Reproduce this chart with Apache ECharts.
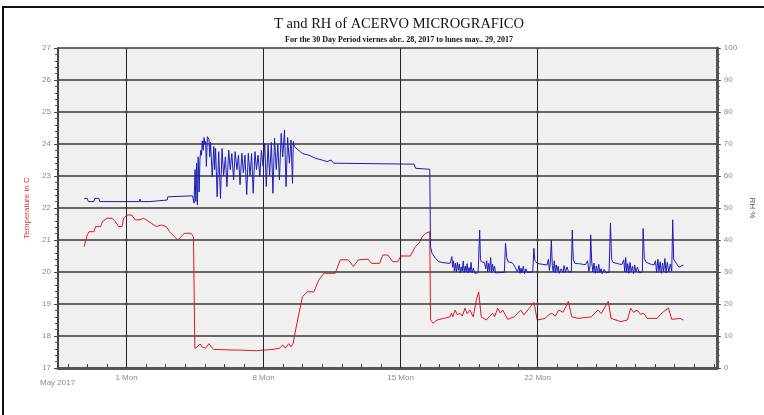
<!DOCTYPE html>
<html>
<head>
<meta charset="utf-8">
<script src="https://cdn.jsdelivr.net/npm/echarts@6/dist/echarts.min.js"></script>
<style>
  html, body { margin: 0; padding: 0; background: #fff; }
  #chart { width: 764px; height: 415px; }
</style>
</head>
<body>
<div id="chart"></div>
<script>
// x values are days from Monday May 1 2017 00:00 (negative = late April)
const dayTicks = [-3, -2, -1, 0, 1, 2, 3, 4, 5, 6, 7, 8, 9, 10, 11, 12, 13, 14, 15, 16,
                  17, 18, 19, 20, 21, 22, 23, 24, 25, 26, 27, 28, 29, 30];
const mondayDays = [0, 7, 14, 21];
const mondayLabels = ["1 Mon", "8 Mon", "15 Mon", "22 Mon"];

// Temperature in C, [day, value]
const tempPoints = [
    [-2.16, 20.79], [-2.08, 21.0], [-2.0, 21.16], [-1.91, 21.26], [-1.66, 21.26], [-1.58, 21.42],
    [-1.32, 21.42], [-1.24, 21.57], [-0.99, 21.68], [-0.74, 21.68], [-0.57, 21.57], [-0.4, 21.42],
    [-0.23, 21.42], [-0.15, 21.68], [0.02, 21.78], [0.27, 21.78], [0.44, 21.63], [0.69, 21.63],
    [0.86, 21.68], [1.02, 21.63], [1.27, 21.52], [1.53, 21.42], [1.78, 21.47], [2.03, 21.42],
    [2.2, 21.26], [2.45, 21.1], [2.62, 21.0], [2.78, 21.1], [2.95, 21.21], [3.29, 21.21],
    [3.42, 21.1], [3.49, 17.61], [3.62, 17.67], [3.76, 17.75], [3.87, 17.65], [4.04, 17.62],
    [4.21, 17.76], [4.33, 17.66], [4.46, 17.58], [5.63, 17.56], [5.72, 17.5], [5.8, 17.56],
    [6.64, 17.54], [6.73, 17.49], [6.81, 17.55], [7.48, 17.58], [7.81, 17.62], [7.98, 17.72],
    [8.11, 17.62], [8.28, 17.76], [8.4, 17.66], [8.52, 17.78], [8.57, 17.98], [8.74, 18.5],
    [8.99, 19.23], [9.24, 19.38], [9.57, 19.38], [9.82, 19.75], [10.08, 19.96], [10.66, 19.96],
    [10.92, 20.38], [11.33, 20.38], [11.59, 20.17], [11.84, 20.38], [12.34, 20.4], [12.51, 20.27],
    [12.93, 20.27], [13.09, 20.53], [13.35, 20.53], [13.6, 20.32], [13.85, 20.32], [14.02, 20.5],
    [14.5, 20.5], [14.75, 20.79], [14.94, 20.9], [15.11, 21.1], [15.28, 21.21], [15.36, 21.26],
    [15.49, 21.26], [15.53, 18.5], [15.66, 18.4], [15.86, 18.5], [16.2, 18.55], [16.53, 18.6],
    [16.6, 18.72], [16.66, 18.6], [16.79, 18.81], [16.9, 18.66], [17.04, 18.71], [17.15, 18.62],
    [17.29, 18.87], [17.4, 18.7], [17.54, 18.81], [17.71, 18.6], [17.87, 19.12], [17.99, 19.38],
    [18.12, 18.6], [18.38, 18.5], [18.55, 18.62], [18.71, 18.71], [18.8, 18.6], [18.96, 18.87],
    [19.1, 18.72], [19.22, 18.81], [19.47, 18.52], [19.8, 18.6], [19.95, 18.7], [20.14, 18.81],
    [20.3, 18.66], [20.64, 18.92], [20.81, 19.05], [20.98, 18.5], [21.39, 18.55], [21.55, 18.66],
    [21.73, 18.71], [21.9, 18.62], [22.07, 18.81], [22.3, 18.74], [22.57, 19.08], [22.74, 18.6],
    [23.07, 18.55], [23.74, 18.6], [23.9, 18.7], [24.08, 18.81], [24.25, 18.7], [24.41, 18.87],
    [24.61, 19.08], [24.75, 18.55], [25.25, 18.45], [25.59, 18.5], [25.75, 18.87], [25.9, 18.74],
    [26.09, 18.81], [26.25, 18.68], [26.42, 18.71], [26.59, 18.55], [27.1, 18.55], [27.25, 18.66],
    [27.43, 18.76], [27.68, 18.87], [27.85, 18.52], [28.27, 18.55], [28.44, 18.5]
];

// Relative humidity %, [day, value]
const rhPoints = [
    [-2.16, 53.0], [-2.0, 53.0], [-1.95, 52.0], [-1.66, 52.0], [-1.62, 53.0], [-1.41, 53.0],
    [-1.37, 52.0], [0.66, 52.0], [0.69, 52.8], [0.72, 52.0], [1.19, 52.0], [1.22, 52.5],
    [2.08, 52.5], [2.11, 53.5], [3.37, 53.8], [3.42, 53.8],
    [3.45, 51.5], [3.5, 62], [3.54, 52], [3.58, 64], [3.62, 50.9], [3.66, 66], [3.71, 55],
    [3.75, 65], [3.79, 68], [3.83, 66.5], [3.87, 71], [3.92, 68], [3.96, 72], [4.0, 70],
    [4.04, 70.8], [4.08, 63], [4.13, 72.3], [4.21, 71.5], [4.25, 66], [4.29, 70.5], [4.38, 59.8],
    [4.46, 69.2], [4.5, 62], [4.55, 68.6], [4.63, 53.5], [4.71, 67.6], [4.8, 53.0], [4.88, 68.6],
    [4.96, 60], [5.05, 66], [5.13, 56.7], [5.22, 68.1], [5.3, 62], [5.38, 67], [5.47, 58.75],
    [5.55, 67.6], [5.64, 62], [5.72, 66.5], [5.8, 57.3], [5.89, 67.1], [5.97, 61], [6.05, 66.5],
    [6.14, 54.2], [6.22, 67.1], [6.31, 60], [6.39, 67], [6.47, 54.6], [6.56, 67.6], [6.64, 62],
    [6.72, 66.5], [6.81, 59.8], [6.89, 68], [6.98, 63], [7.06, 70.2], [7.14, 56.7], [7.23, 69.7],
    [7.31, 60], [7.4, 70.5], [7.48, 54.6], [7.56, 71.8], [7.65, 62], [7.73, 70], [7.81, 58.75],
    [7.9, 73.3], [7.98, 66], [8.07, 74.4], [8.15, 56.7], [8.23, 72], [8.32, 64], [8.4, 71.25],
    [8.48, 57.7], [8.52, 70.8], [8.57, 69.2], [8.65, 69.2], [8.99, 67.0], [9.32, 66.5],
    [9.66, 65.5], [9.99, 65.0], [10.25, 64.5], [10.35, 65.0], [10.45, 65.0], [10.58, 64.0],
    [14.69, 63.7], [14.77, 62.4], [15.49, 62.1], [15.53, 37.9], [15.61, 35.8], [15.78, 34.3],
    [15.95, 33.2], [16.2, 32.9], [16.53, 32.7], [16.62, 34.8], [16.66, 31.5], [16.7, 33.5],
    [16.75, 30.2], [16.8, 32.8], [16.85, 30.0], [16.9, 33.0], [16.95, 30.5], [17.0, 32.5],
    [17.05, 29.8], [17.1, 31.6], [17.15, 30.2], [17.2, 33.4], [17.25, 29.9], [17.3, 31.8],
    [17.35, 30.1], [17.4, 32.6], [17.45, 29.7], [17.5, 31.4], [17.55, 30.0], [17.6, 33.0],
    [17.65, 29.8], [17.72, 31.2], [17.79, 29.6], [17.96, 29.8], [18.04, 43.1], [18.08, 34.0],
    [18.12, 33.2], [18.29, 32.9], [18.35, 31.0], [18.4, 33.5], [18.45, 30.0], [18.5, 32.7],
    [18.55, 30.2], [18.6, 34.5], [18.65, 29.8], [18.7, 32.4], [18.75, 30.3], [18.8, 31.8],
    [18.85, 29.7], [19.0, 29.8], [19.3, 29.9], [19.36, 39.0], [19.42, 34.5], [19.5, 33.2],
    [19.72, 32.8], [19.85, 31.5], [19.97, 30.0], [20.05, 32.0], [20.1, 29.6], [20.15, 31.2],
    [20.2, 29.8], [20.27, 31.8], [20.33, 29.5], [20.4, 31.0], [20.47, 29.9], [20.55, 30.2],
    [20.75, 30.0], [20.81, 37.4], [20.86, 33.6], [20.98, 32.7], [21.23, 32.4], [21.48, 32.2],
    [21.55, 34.0], [21.6, 30.5], [21.65, 33.0], [21.7, 40.0], [21.75, 32.0], [21.8, 30.0],
    [21.85, 33.5], [21.9, 29.7], [21.95, 32.2], [22.0, 30.4], [22.05, 31.8], [22.1, 29.6],
    [22.2, 31.0], [22.3, 29.8], [22.35, 32.0], [22.42, 29.9], [22.5, 31.6], [22.58, 30.0],
    [22.65, 30.5], [22.72, 30.0], [22.77, 43.1], [22.82, 34.0], [22.9, 32.7], [23.1, 32.6],
    [23.3, 32.4], [23.45, 32.3], [23.55, 33.5], [23.62, 30.2], [23.68, 32.0], [23.71, 41.6],
    [23.76, 33.5], [23.82, 30.0], [23.88, 32.8], [23.94, 29.6], [24.0, 31.9], [24.06, 29.7],
    [24.12, 32.4], [24.18, 29.8], [24.24, 31.0], [24.3, 29.5], [24.4, 30.8], [24.5, 29.7],
    [24.65, 30.0], [24.72, 45.2], [24.78, 34.0], [24.85, 33.0], [25.1, 32.6], [25.3, 32.3],
    [25.4, 33.8], [25.45, 30.0], [25.5, 34.5], [25.55, 29.8], [25.6, 32.6], [25.66, 29.6],
    [25.72, 33.0], [25.78, 30.1], [25.84, 31.8], [25.9, 29.5], [25.96, 32.2], [26.02, 30.0],
    [26.1, 31.5], [26.2, 29.7], [26.35, 30.0], [26.39, 43.6], [26.45, 34.2], [26.55, 33.0],
    [26.8, 32.4], [26.95, 32.2], [27.02, 33.5], [27.08, 29.8], [27.14, 34.0], [27.2, 30.2],
    [27.26, 33.2], [27.32, 29.6], [27.38, 32.8], [27.44, 30.0], [27.5, 34.2], [27.56, 29.7],
    [27.62, 33.0], [27.7, 30.0], [27.78, 32.5], [27.85, 30.2], [27.9, 46.3], [27.95, 34.0],
    [28.05, 33.0], [28.15, 32.4], [28.22, 31.5], [28.27, 32.0], [28.44, 32.2]
];

const labelColor = "#8a8a8a";
const gridColor = "#3a3a3a";

const chart = echarts.init(document.getElementById("chart"));

chart.setOption({
    animation: false,
    backgroundColor: "#fff",
    title: {
        text: "T and RH of ACERVO MICROGRAFICO",
        subtext: "For the 30 Day Period viernes abr.. 28, 2017 to lunes may.. 29, 2017",
        left: 394,
        top: 12,
        textAlign: "center",
        itemGap: 4,
        textStyle: { fontFamily: "Liberation Serif", fontSize: 14.5, fontWeight: "normal", color: "#111" },
        subtextStyle: { fontFamily: "Liberation Serif", fontSize: 8, fontWeight: "bold", color: "#111" }
    },
    grid: {
        left: 58, right: 37, top: 48, bottom: 47,
        show: true,
        backgroundColor: "#f0f0f0",
        borderWidth: 0
    },
    xAxis: {
        type: "value",
        min: -3.5,
        max: 30.15,
        axisLine: { onZero: false, lineStyle: { color: "#555", width: 3 } },
        axisTick: { inside: true, length: 4, customValues: dayTicks, lineStyle: { color: "#444" } },
        axisLabel: {
            customValues: mondayDays,
            color: labelColor,
            fontSize: 8,
            fontFamily: "Liberation Sans",
            margin: 6,
            formatter: v => mondayLabels[mondayDays.indexOf(v)]
        },
        splitLine: { show: false }
    },
    yAxis: [
        {
            type: "value",
            min: 17, max: 27, interval: 1,
            name: "Temperature in C",
            nameLocation: "middle",
            nameGap: 21,
            nameTextStyle: { color: "#e03030", fontSize: 8, fontFamily: "Liberation Sans" },
            axisLine: { show: true, onZero: false, lineStyle: { color: "#444", width: 2 } },
            axisTick: { show: true, length: 4, lineStyle: { color: "#444" } },
            minorTick: { show: true, splitNumber: 5, length: 3, lineStyle: { color: "#555" } },
            axisLabel: { color: labelColor, fontSize: 8, fontFamily: "Liberation Sans", margin: 7 },
            splitLine: { show: true, lineStyle: { color: gridColor, width: 1.6 } }
        },
        {
            type: "value",
            min: 0, max: 100, interval: 10,
            name: "RH %",
            nameLocation: "middle",
            nameGap: 29,
            nameRotate: -90,
            nameTextStyle: { color: "#555", fontSize: 8, fontFamily: "Liberation Sans" },
            axisLine: { show: true, onZero: false, lineStyle: { color: "#555", width: 3 } },
            axisTick: { show: true, length: 4, lineStyle: { color: "#444" } },
            minorTick: { show: true, splitNumber: 5, length: 3, lineStyle: { color: "#555" } },
            axisLabel: { color: labelColor, fontSize: 8, fontFamily: "Liberation Sans", margin: 7 },
            splitLine: { show: false }
        }
    ],
    graphic: [
        {
            type: "rect",
            shape: { x: 3, y: 7, width: 900, height: 600 },
            style: { fill: null, stroke: "#111", lineWidth: 2 },
            silent: true
        },
        {
            type: "text",
            left: 40,
            top: 379,
            style: { text: "May 2017", fill: labelColor, fontSize: 8, fontFamily: "Liberation Sans" }
        }
    ],
    series: [
        {
            name: "Temperature",
            type: "line",
            yAxisIndex: 0,
            data: tempPoints,
            showSymbol: false,
            lineStyle: { color: "#e01818", width: 1 },
            itemStyle: { color: "#e01818" },
            markLine: {
                silent: true,
                symbol: "none",
                label: { show: false },
                lineStyle: { color: "#222", width: 1, type: "solid" },
                data: mondayDays.map(d => ({ xAxis: d }))
            },
            z: 3
        },
        {
            name: "RH",
            type: "line",
            yAxisIndex: 1,
            data: rhPoints,
            showSymbol: false,
            lineStyle: { color: "#1c1cb8", width: 1 },
            itemStyle: { color: "#1c1cb8" },
            z: 3
        }
    ]
});
</script>
</body>
</html>
